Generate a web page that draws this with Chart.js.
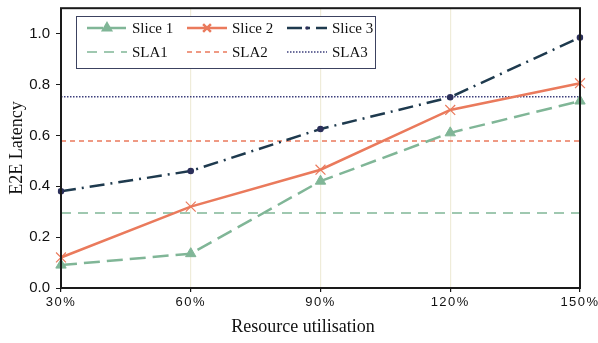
<!DOCTYPE html>
<html>
<head>
<meta charset="utf-8">
<script src="https://cdn.jsdelivr.net/npm/chart.js@4.4.0/dist/chart.umd.min.js"></script>
<style>
  html, body { margin: 0; padding: 0; background: #fff; }
  #wrap { width: 598px; height: 343px; }
</style>
</head>
<body>
<div id="wrap"><canvas id="chartLatency"></canvas></div>
<script>
// values
const utilisation = ['30%', '60%', '90%', '120%', '150%'];
const slice1 = [0.09, 0.135, 0.42, 0.61, 0.735];
const slice2 = [0.12, 0.32, 0.465, 0.70, 0.805];
const slice3 = [0.38, 0.46, 0.625, 0.75, 0.985];
const sla1 = 0.295;
const sla2 = 0.578;
const sla3 = 0.752;

const green = '#80b697';
const orange = '#ea7a5c';
const navy = '#1e3a4e';
const purple = '#3c3f7c';

const flat = v => utilisation.map(() => v);

// frame, legend and x title drawn by hand
const framePlugin = {
    id: 'frame',
    afterDatasetsDraw(chart) {
        const { ctx, chartArea: a } = chart;
        ctx.save();
        ctx.strokeStyle = '#1a1a1a';
        ctx.lineWidth = 2;
        ctx.strokeRect(a.left, a.top, a.right - a.left, a.bottom - a.top);
        ctx.restore();
    },
    afterDraw(chart) {
        const { ctx } = chart;
        const items = chart.data.datasets;
        const cols = [87, 187, 287];
        const rows = [28, 52];
        ctx.save();
        ctx.fillStyle = '#fff';
        ctx.fillRect(76, 16, 299, 52);
        ctx.strokeStyle = '#3c4260';
        ctx.lineWidth = 1;
        ctx.strokeRect(76.5, 16.5, 299, 52);
        items.forEach((ds, i) => {
            const x = cols[i % 3], y = rows[Math.floor(i / 3)];
            ctx.strokeStyle = ds.borderColor;
            ctx.lineWidth = ds.borderWidth;
            ctx.setLineDash(ds.borderDash || []);
            ctx.beginPath();
            ctx.moveTo(x, y);
            ctx.lineTo(x + 40, y);
            ctx.stroke();
            ctx.setLineDash([]);
            if (ds.pointStyle && ds.pointRadius > 0) {
                ctx.fillStyle = ds.pointBackgroundColor;
                ctx.strokeStyle = ds.pointBorderColor;
                Chart.helpers.drawPoint(ctx, {
                    pointStyle: ds.pointStyle,
                    radius: ds.pointRadius - 1.5,
                    borderWidth: ds.pointBorderWidth
                }, x + 20, y);
            }
            ctx.fillStyle = '#111';
            ctx.font = '15px "Liberation Serif", "Times New Roman", serif';
            ctx.textBaseline = 'middle';
            ctx.fillText(ds.label, x + 45, y + 1);
        });

        // x axis title sits a little left of the plot centre in the figure
        ctx.fillStyle = '#111';
        ctx.font = '18px "Liberation Serif", "Times New Roman", serif';
        ctx.textAlign = 'center';
        ctx.textBaseline = 'middle';
        ctx.fillText('Resource utilisation', 303, 327);
        ctx.restore();
    }
};

const lineBase = { fill: false, tension: 0, pointHoverRadius: 0 };

const dataChart = {
    labels: utilisation,
    datasets: [
        {
            ...lineBase,
            label: 'Slice 1',
            data: slice1,
            borderColor: green,
            backgroundColor: green,
            borderWidth: 2.5,
            borderDash: [16, 7],
            pointStyle: 'triangle',
            pointRadius: 6,
            pointBorderWidth: 1,
            pointBackgroundColor: green,
            pointBorderColor: green,
        },
        {
            ...lineBase,
            label: 'Slice 2',
            data: slice2,
            borderColor: orange,
            backgroundColor: orange,
            borderWidth: 2.5,
            pointStyle: 'crossRot',
            pointRadius: 7,
            pointBorderWidth: 1.2,
            pointBackgroundColor: orange,
            pointBorderColor: orange,
        },
        {
            ...lineBase,
            label: 'Slice 3',
            data: slice3,
            borderColor: navy,
            backgroundColor: navy,
            borderWidth: 2.5,
            borderDash: [15, 6, 2, 6],
            pointStyle: 'circle',
            pointRadius: 3.3,
            pointBorderWidth: 0,
            pointBackgroundColor: '#2b2f5a',
            pointBorderColor: '#2b2f5a',
        },
        {
            ...lineBase,
            label: 'SLA1',
            data: flat(sla1),
            borderColor: green,
            borderWidth: 1.5,
            borderDash: [10, 7],
            pointRadius: 0,
        },
        {
            ...lineBase,
            label: 'SLA2',
            data: flat(sla2),
            borderColor: orange,
            borderWidth: 1.5,
            borderDash: [5, 4],
            pointRadius: 0,
        },
        {
            ...lineBase,
            label: 'SLA3',
            data: flat(sla3),
            borderColor: purple,
            borderWidth: 1.5,
            borderDash: [1.5, 1.5],
            pointRadius: 0,
        },
    ],
};

// x labels in the figure are slightly letter-spaced
function spacedLabels(scale) {
    if (scale._spaced) return;
    scale._spaced = true;
    const orig = scale.drawLabels.bind(scale);
    scale.drawLabels = function (area) {
        const ctx = this.ctx;
        ctx.save();
        ctx.letterSpacing = '1.5px';
        orig(area);
        ctx.restore();
    };
}

const configChart = {
    type: 'line',
    data: dataChart,
    plugins: [framePlugin],
    options: {
        responsive: true,
        maintainAspectRatio: false,
        animation: false,
        layout: { padding: { top: 3, right: 18, left: 0, bottom: 0 } },
        plugins: {
            legend: { display: false },
            tooltip: { enabled: false }
        },
        scales: {
            x: {
                offset: false,
                afterFit: s => {
                    s.height = 55;
                    s.paddingLeft = 0;
                    s.paddingRight = 0;
                    spacedLabels(s);
                },
                grid: {
                    color: '#efecd9',
                    lineWidth: 1.2,
                    drawTicks: true,
                    tickLength: 4,
                    tickColor: '#1a1a1a'
                },
                border: { display: false },
                ticks: {
                    color: '#111',
                    font: { family: '"Liberation Sans", Arial, sans-serif', size: 13 },
                    maxRotation: 0,
                    padding: 3
                }
            },
            y: {
                min: 0,
                max: 1.1,
                afterFit: s => {
                    s.width = 61;
                    s.paddingTop = 0;
                    s.paddingBottom = 0;
                },
                afterBuildTicks: s => {
                    s.ticks = [0, 0.2, 0.4, 0.6, 0.8, 1.0].map(v => ({ value: v }));
                },
                grid: {
                    display: true,
                    drawOnChartArea: false,
                    drawTicks: true,
                    tickLength: 5,
                    tickColor: '#1a1a1a'
                },
                border: { display: false },
                ticks: {
                    color: '#111',
                    font: { family: '"Liberation Sans", Arial, sans-serif', size: 15 },
                    padding: 6,
                    callback: v => v.toFixed(1)
                },
                title: {
                    display: true,
                    text: 'E2E Latency',
                    color: '#111',
                    font: { family: '"Liberation Serif", "Times New Roman", serif', size: 18 },
                    padding: { bottom: 0, top: 6 }
                }
            }
        }
    },
};

var chartLine = new Chart(document.getElementById('chartLatency'), configChart);
</script>
</body>
</html>
